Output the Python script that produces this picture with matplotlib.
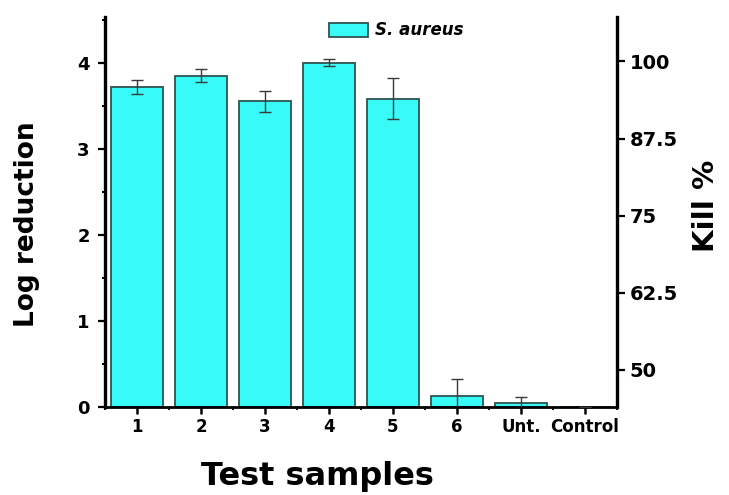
import matplotlib
matplotlib.use("Agg")
import matplotlib.pyplot as plt
from matplotlib.ticker import FixedLocator, MultipleLocator, FuncFormatter

# Log reduction of S. aureus for each test sample
samples = ["1", "2", "3", "4", "5", "6", "Unt.", "Control"]
log_reduction = [3.72, 3.85, 3.55, 4.00, 3.58, 0.13, 0.05, 0.0]
log_err = [0.08, 0.08, 0.12, 0.04, 0.24, 0.19, 0.065, 0.0]
kill_ticks = [50, 62.5, 75, 87.5, 100]

bar_color = "#38FAF7"
edge_color = "#2F5353"
font = "DejaVu Sans"

plt.rcParams["font.family"] = font
plt.rcParams["font.weight"] = "bold"

fig = plt.figure(figsize=(7.29, 4.95), dpi=100)
ax = fig.add_axes([105 / 729, 1 - 407 / 495, (617 - 105) / 729, (407 - 17) / 495])

x = list(range(1, len(samples) + 1))
ax.bar(x, log_reduction, width=0.8, color=bar_color, edgecolor=edge_color,
       linewidth=1.3, label="S. aureus", zorder=2)
ax.errorbar(x, log_reduction, yerr=log_err, fmt="none", ecolor="#3A3A3A",
            elinewidth=1.0, capsize=4, capthick=1.0, zorder=3)

ax.set_xlim(0.5, 8.5)
ax.set_ylim(0, 4.53)

ax.xaxis.set_major_locator(FixedLocator(x))
ax.set_xticklabels(samples)
ax.xaxis.set_minor_locator(MultipleLocator(1, offset=0.5))
ax.yaxis.set_major_locator(MultipleLocator(1))
ax.yaxis.set_minor_locator(MultipleLocator(0.5))

for side in ("top",):
    ax.spines[side].set_visible(False)
ax.spines["right"].set_visible(False)
ax.spines["left"].set_linewidth(2.4)
ax.spines["bottom"].set_linewidth(2.0)

ax.tick_params(axis="y", which="major", direction="out", length=5, width=1.6,
               pad=6, labelsize=13)
ax.tick_params(axis="y", which="minor", direction="out", length=2.5, width=1.4)
ax.tick_params(axis="x", which="major", direction="out", length=5, width=1.8,
               pad=3, labelsize=12)
ax.tick_params(axis="x", which="minor", direction="out", length=2.5, width=1.4)
for lab in ax.get_xticklabels() + ax.get_yticklabels():
    lab.set_fontweight("bold")

# Secondary kill-percentage scale
ax2 = ax.twinx()
ax2.set_ylim(44, 107.2)
ax2.yaxis.set_major_locator(FixedLocator(kill_ticks))
ax2.yaxis.set_major_formatter(FuncFormatter(lambda v, p: f"{v:g}"))
for side in ("top", "left", "bottom"):
    ax2.spines[side].set_visible(False)
ax2.spines["right"].set_linewidth(2.4)
ax2.tick_params(axis="y", which="major", direction="out", length=6, width=1.6,
                pad=3, labelsize=14)
for lab in ax2.get_yticklabels():
    lab.set_fontweight("bold")

fig.text(27 / 729, 1 - 224 / 495, "Log reduction", rotation=90, ha="center",
         va="center", fontsize=19, fontweight="bold")
fig.text(317 / 729, 1 - 477 / 495, "Test samples", ha="center", va="center",
         fontsize=23, fontweight="bold")
fig.text(706 / 729, 1 - 206 / 495, "Kill %", rotation=90, ha="center",
         va="center", fontsize=21, fontweight="bold")

leg = ax.legend(loc="upper left", bbox_to_anchor=(321 / 729, 1 - 13 / 495),
                bbox_transform=fig.transFigure, frameon=False, borderpad=0,
                handlelength=2.3, handleheight=0.9, handletextpad=0.45,
                prop={"family": font, "weight": "bold", "style": "italic", "size": 12})

fig.savefig("out.png", dpi=100, facecolor="white")
